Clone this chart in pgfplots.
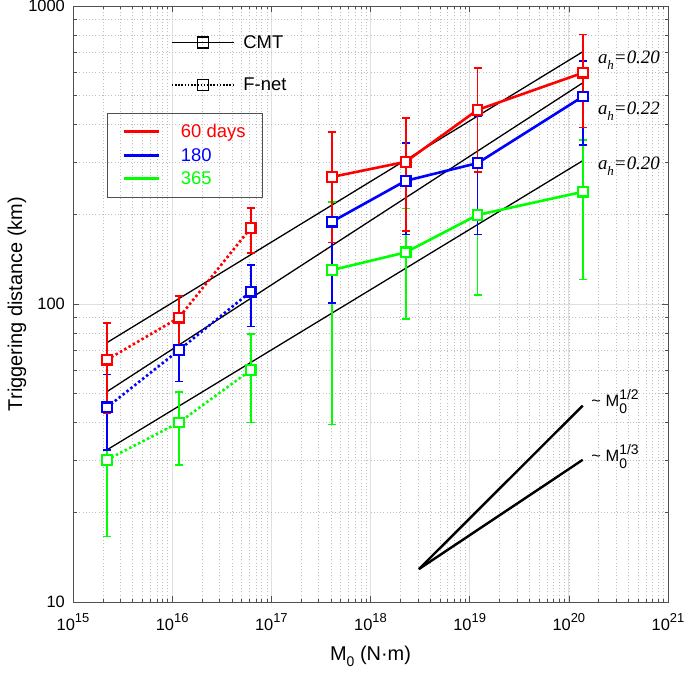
\documentclass[border=0pt]{standalone}
\usepackage{pgfplots}
\pgfplotsset{compat=1.18}
\usepackage{pgfplotstable}
\usepackage{fontspec}
\setmainfont{Liberation Sans}
\newfontfamily\serifit{Liberation Serif}
\definecolor{mred}{RGB}{255,0,0}
\definecolor{mblue}{RGB}{0,0,255}
\definecolor{mgreen}{RGB}{0,255,0}
\definecolor{axgray}{RGB}{80,80,80}

\newcommand\tp[1]{10\raisebox{0.5em}{\fontsize{13}{13}\selectfont #1}}
\newcommand\Mexp[1]{M\rlap{\raisebox{0.42em}{\fontsize{14}{14}\selectfont #1}}\raisebox{-0.42em}{\fontsize{14}{14}\selectfont 0}}
\newcommand\ah[1]{a\raisebox{-0.32em}{\fontsize{13}{13}\selectfont h}=#1}

\pgfplotstableread{
x y ep em
2.2e15 30 13 13.4
1.17e16 40 10.7 11.2
6.2e16 60 19.3 20
}\gF
\pgfplotstableread{
x y ep em
4.1e17 130 90 90.6
2.26e18 149 60 60
1.2e19 199 92 92
1.39e20 238 117 117
}\gC
\pgfplotstableread{
x y ep em
2.2e15 45 13 12.6
1.17e16 70 17 15
6.2e16 110 25 26
}\bF
\pgfplotstableread{
x y ep em
4.1e17 189 85 88
2.26e18 259 88 88
1.2e19 297 130 126
1.39e20 497 157 155
}\bC
\pgfplotstableread{
x y ep em
2.2e15 65 21.5 22
1.17e16 90 16.6 18
6.2e16 180 30 32
}\rF
\pgfplotstableread{
x y ep em
4.1e17 267 110 106
2.26e18 300 121 124
1.2e19 448 170 171
1.39e20 597 206 206
}\rC

\pgfplotsset{
  ser/.style={#1, line width=2.6bp, mark=square*, mark size=4.8bp,
    mark options={solid, line width=2.2bp, fill=white, draw=#1},
    error bars/.cd, y dir=both, y explicit,
    error bar style={line width=1.8bp, solid, #1},
    error mark options={rotate=90, mark size=4bp, line width=1.6bp, solid, #1}},
  fnet/.style={dash pattern=on 2.5bp off 2.5bp},
}

\begin{document}
\begin{tikzpicture}
\begin{axis}[
  at={(0,0)}, anchor=south west,
  scale only axis, width=595bp, height=596bp,
  xmode=log, ymode=log,
  xmin=1e15, xmax=1e21, ymin=10, ymax=1000,
  xtick={1e15,1e16,1e17,1e18,1e19,1e20,1e21},
  xticklabels={\tp{15},\tp{16},\tp{17},\tp{18},\tp{19},\tp{20},\tp{21}},
  ytick={10,100,1000}, yticklabels={10,100,1000},
  tick align=inside,
  major tick length=6bp, minor tick length=3.5bp,
  grid=both,
  major grid style={gray!25, line width=0.8bp},
  minor grid style={gray!50, line width=0.6bp, dash pattern=on 1bp off 2.2bp},
  axis line style={axgray, line width=0.8bp},
  tick style={axgray, line width=0.6bp},
  ticklabel style={font=\fontsize{16.5}{18}\selectfont},
  xticklabel style={anchor=base, yshift=-29bp},
  yticklabel style={anchor=east, inner sep=0pt, xshift=-8bp},
  xlabel={M\raisebox{-0.3em}{\fontsize{14}{14}\selectfont 0} (N·m)},
  ylabel={Triggering distance (km)},
  label style={font=\fontsize{20}{22}\selectfont},
  xlabel style={at={(axis description cs:0.5,0)}, anchor=base, yshift=-59bp},
  ylabel style={at={(axis description cs:0,0.5)}, anchor=base, yshift=51bp},
]
% reference lines
\addplot[black, line width=1.3bp] coordinates {(2.2e15,74.2) (1.39e20,703)};
\addplot[black, line width=1.3bp] coordinates {(2.2e15,50.8) (1.39e20,553)};
\addplot[black, line width=1.3bp] coordinates {(2.2e15,32.4) (1.39e20,303)};
% slope triangle
\addplot[black, line width=2.4bp] coordinates {(3.08e18,12.9) (1.38e20,45.6)};
\addplot[black, line width=2.4bp] coordinates {(3.08e18,12.9) (1.38e20,30)};
% data
\addplot[fnet, ser=mgreen] table[x=x,y=y,y error plus=ep,y error minus=em] {\gF};
\addplot[ser=mgreen] table[x=x,y=y,y error plus=ep,y error minus=em] {\gC};
\addplot[fnet, ser=mblue] table[x=x,y=y,y error plus=ep,y error minus=em] {\bF};
\addplot[ser=mblue] table[x=x,y=y,y error plus=ep,y error minus=em] {\bC};
\addplot[fnet, ser=mred] table[x=x,y=y,y error plus=ep,y error minus=em] {\rF};
\addplot[ser=mred] table[x=x,y=y,y error plus=ep,y error minus=em] {\rC};
% annotations
\node[anchor=base west, font=\fontsize{19}{21}\serifit\itshape, inner sep=0pt] at (axis cs:1.96e20,641) {\ah{0.20}};
\node[anchor=base west, font=\fontsize{19}{21}\serifit\itshape, inner sep=0pt] at (axis cs:1.96e20,431) {\ah{0.22}};
\node[anchor=base west, font=\fontsize{19}{21}\serifit\itshape, inner sep=0pt] at (axis cs:1.96e20,282) {\ah{0.20}};
\node[anchor=base west, font=\fontsize{16.5}{19}\selectfont, inner sep=0pt] at (axis cs:1.68e20,45.2) {\textasciitilde\ \Mexp{1/2}};
\node[anchor=base west, font=\fontsize{16.5}{19}\selectfont, inner sep=0pt] at (axis cs:1.68e20,29.6) {\textasciitilde\ \Mexp{1/3}};
\end{axis}

% legend 1
\begin{axis}[
  at={(0,0)}, anchor=south west,
  scale only axis, width=595bp, height=596bp,
  hide axis, xmin=0, xmax=1, ymin=0, ymax=1,
  legend style={at={(0.1642,0.9545)}, anchor=north west, draw=none, fill=none,
    font=\fontsize{18.5}{20}\selectfont, row sep=24.6bp, column sep=6.7bp, inner sep=0pt},
  legend cell align=left,
  legend image code/.code={\draw[mark repeat=2, mark phase=2] plot coordinates {(0bp,0bp) (31bp,0bp) (62bp,0bp)};},
]
\addlegendimage{black, line width=1.6bp, mark=square, mark size=5.5bp, mark options={solid, line width=1.3bp}}
\addlegendentry{CMT}
\addlegendimage{black, line width=1.8bp, dash pattern=on 1.6bp off 1.6bp, mark=square, mark size=5.5bp, mark options={solid, line width=1.3bp}}
\addlegendentry{F-net}
\end{axis}

% legend 2
\begin{axis}[
  at={(0,0)}, anchor=south west,
  scale only axis, width=595bp, height=596bp,
  hide axis, xmin=0, xmax=1, ymin=0, ymax=1,
  legend style={at={(0.0571,0.8205)}, anchor=north west, draw=axgray, line width=0.8bp, fill=none,
    font=\fontsize{18.5}{20}\selectfont, row sep=5bp, column sep=19bp, inner xsep=15bp, inner ysep=9bp},
  legend cell align=left,
  legend image code/.code={\draw (0bp,0bp) -- (35bp,0bp);},
]
\addlegendimage{mred, line width=2.6bp}
\addlegendentry{\textcolor{mred}{60 days}}
\addlegendimage{mblue, line width=2.6bp}
\addlegendentry{\textcolor{mblue}{180}}
\addlegendimage{mgreen, line width=2.6bp}
\addlegendentry{\textcolor{mgreen}{365}}
\end{axis}
\pgfresetboundingbox
\path[use as bounding box] (-73bp,-73bp) rectangle (612bp,602bp);
\end{tikzpicture}
\end{document}
